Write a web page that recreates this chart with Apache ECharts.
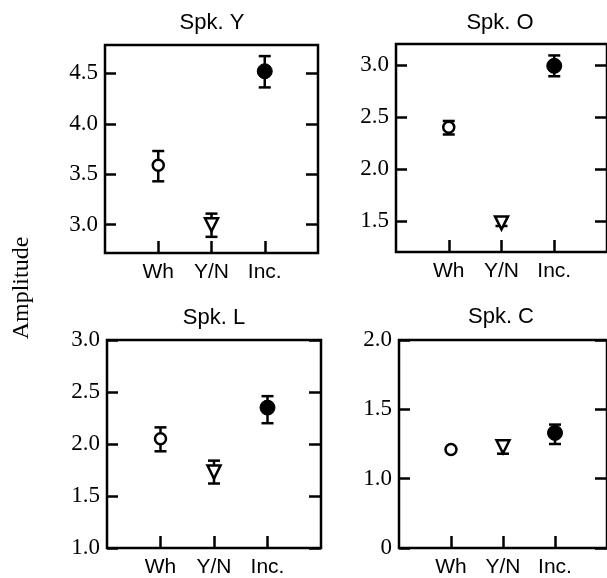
<!DOCTYPE html>
<html>
<head>
<meta charset="utf-8">
<script src="https://cdn.jsdelivr.net/npm/echarts@6/dist/echarts.min.js"></script>
<style>html,body{margin:0;padding:0;background:#fff}#c{width:607px;height:578px}</style>
</head>
<body>
<div id="c"></div>
<script>
// ---- data ----
const categories = ['Wh', 'Y/N', 'Inc.'];
const panelTitles = ['Spk. Y', 'Spk. O', 'Spk. L', 'Spk. C'];
const yAxisTitle = 'Amplitude';

const spkYMean = [3.59, 3.00, 4.52];
const spkYLow  = [3.43, 2.88, 4.36];
const spkYHigh = [3.73, 3.11, 4.67];

const spkOMean = [2.40, 1.48, 2.99];
const spkOLow  = [2.33, 1.45, 2.89];
const spkOHigh = [2.46, 1.53, 3.09];

const spkLMean = [2.05, 1.73, 2.35];
const spkLLow  = [1.93, 1.62, 2.20];
const spkLHigh = [2.16, 1.84, 2.46];

const spkCMean = [1.21, 1.23, 1.33];
const spkCLow  = [1.21, 1.18, 1.25];
const spkCHigh = [1.21, 1.27, 1.39];

const spkYTicks = [3.0, 3.5, 4.0, 4.5];
const spkYTickLabels = ['3.0', '3.5', '4.0', '4.5'];
const spkOTicks = [1.5, 2.0, 2.5, 3.0];
const spkOTickLabels = ['1.5', '2.0', '2.5', '3.0'];
const spkLTicks = [1.0, 1.5, 2.0, 2.5, 3.0];
const spkLTickLabels = ['1.0', '1.5', '2.0', '2.5', '3.0'];
const spkCTicks = [0.5, 1.0, 1.5, 2.0];
const spkCTickLabels = ['0', '1.0', '1.5', '2.0'];

const spkYRange = [2.72, 4.78];
const spkORange = [1.2, 3.2];
const spkLRange = [1.0, 3.0];
const spkCRange = [0.5, 2.0];

// ---- layout / style ----
const grids = [
  {left: 105, top: 45, width: 213, height: 208},
  {left: 396, top: 44, width: 213, height: 208},
  {left: 107, top: 340, width: 214, height: 212},
  {left: 399, top: 340, width: 214, height: 210}
];
const titlePos = [[212, 23], [500, 23], [214, 318], [501, 317]];
const markerStyles = [
  {symbol: 'circle', symbolSize: 11, symbolRotate: 0, itemStyle: {color: '#fff', borderColor: '#000', borderWidth: 2.5, opacity: 1}},
  {symbol: 'triangle', symbolSize: 13, symbolRotate: 180, itemStyle: {color: '#fff', borderColor: '#000', borderWidth: 2.5, opacity: 1}},
  {symbol: 'circle', symbolSize: 15, symbolRotate: 0, itemStyle: {color: '#000', borderColor: '#000', borderWidth: 1, opacity: 1}}
];

const panels = [
  {mean: spkYMean, low: spkYLow, high: spkYHigh, ticks: spkYTicks, labels: spkYTickLabels, range: spkYRange},
  {mean: spkOMean, low: spkOLow, high: spkOHigh, ticks: spkOTicks, labels: spkOTickLabels, range: spkORange},
  {mean: spkLMean, low: spkLLow, high: spkLHigh, ticks: spkLTicks, labels: spkLTickLabels, range: spkLRange},
  {mean: spkCMean, low: spkCLow, high: spkCHigh, ticks: spkCTicks, labels: spkCTickLabels, range: spkCRange}
];

const serif = 'Liberation Serif';
const sans = 'Liberation Sans';

const option = {
  animation: false,
  backgroundColor: '#fff',
  grid: grids.map(g => Object.assign({show: true, borderColor: '#000', borderWidth: 2.5, backgroundColor: 'transparent'}, g)),
  xAxis: [],
  yAxis: [],
  series: [],
  graphic: []
};

panels.forEach((p, i) => {
  option.xAxis.push({
    type: 'value', gridIndex: i, min: 0, max: categories.length + 1,
    axisLine: {show: false},
    splitLine: {show: false},
    axisTick: {show: true, inside: true, length: 12, lineStyle: {color: '#000', width: 2.5},
      customValues: categories.map((c, k) => k + 1)},
    axisLabel: {show: true, color: '#000', fontFamily: sans, fontSize: 21, margin: 9,
      customValues: categories.map((c, k) => k + 1),
      formatter: v => categories[Math.round(v) - 1] || ''}
  });
  const fmt = v => {
    const k = p.ticks.findIndex(t => Math.abs(t - v) < 1e-6);
    return k >= 0 ? p.labels[k] : '';
  };
  option.yAxis.push({
    type: 'value', gridIndex: i, position: 'left', min: p.range[0], max: p.range[1],
    axisLine: {show: false}, splitLine: {show: false},
    axisTick: {show: true, inside: true, length: 11, lineStyle: {color: '#000', width: 2.5}, customValues: p.ticks},
    axisLabel: {show: true, color: '#000', fontFamily: serif, fontSize: 23, margin: 7, customValues: p.ticks, formatter: fmt}
  });
  option.yAxis.push({
    type: 'value', gridIndex: i, position: 'right', min: p.range[0], max: p.range[1],
    axisLine: {show: false}, splitLine: {show: false},
    axisTick: {show: true, inside: true, length: 12, lineStyle: {color: '#000', width: 2.5}, customValues: p.ticks},
    axisLabel: {show: false}
  });

  option.series.push({
    type: 'custom', xAxisIndex: i, yAxisIndex: 2 * i, z: 2,
    encode: {x: 0, y: [1, 2]},
    data: categories.map((c, k) => [k + 1, p.low[k], p.high[k]]),
    renderItem: (params, api) => {
      const x = api.value(0), lo = api.value(1), hi = api.value(2);
      if (lo === hi) return null;
      const a = api.coord([x, lo]), b = api.coord([x, hi]);
      const hw = 6;
      const st = {stroke: '#000', lineWidth: 2.5};
      return {type: 'group', children: [
        {type: 'line', shape: {x1: a[0], y1: a[1], x2: b[0], y2: b[1]}, style: st},
        {type: 'line', shape: {x1: a[0] - hw, y1: a[1], x2: a[0] + hw, y2: a[1]}, style: st},
        {type: 'line', shape: {x1: b[0] - hw, y1: b[1], x2: b[0] + hw, y2: b[1]}, style: st}
      ]};
    }
  });
  option.series.push({
    type: 'scatter', xAxisIndex: i, yAxisIndex: 2 * i, z: 3,
    emphasis: {disabled: true},
    data: categories.map((c, k) => Object.assign({value: [k + 1, p.mean[k]]}, markerStyles[k]))
  });

  option.graphic.push({
    type: 'text', x: titlePos[i][0], y: titlePos[i][1],
    style: {text: panelTitles[i], font: '22px "Liberation Sans"', fill: '#000', textAlign: 'center', textVerticalAlign: 'middle'}
  });
});

option.graphic.push({
  type: 'text', x: 22, y: 288, rotation: Math.PI / 2,
  style: {text: yAxisTitle, font: '24px "Liberation Serif"', fill: '#000', textAlign: 'center', textVerticalAlign: 'middle'}
});

const chart = echarts.init(document.getElementById('c'), null, {renderer: 'canvas'});
chart.setOption(option);
</script>
</body>
</html>
